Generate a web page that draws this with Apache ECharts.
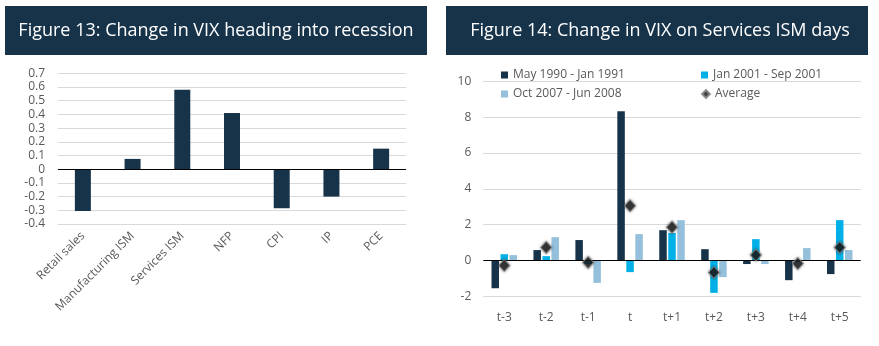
<!DOCTYPE html>
<html><head><meta charset="utf-8">
<script src="https://cdn.jsdelivr.net/npm/echarts@6/dist/echarts.min.js"></script>
<style>html,body{margin:0;padding:0;background:#fff}#c{width:879px;height:346px}</style>
</head><body><div id="c"></div>
<script>
// Figure 13 data
const cats13 = ['Retail sales','Manufacturing ISM','Services ISM','NFP','CPI','IP','PCE'];
const vals13 = [-0.305, 0.075, 0.58, 0.41, -0.285, -0.2, 0.15];
// Figure 14 data
const cats14 = ['t-3','t-2','t-1','t','t+1','t+2','t+3','t+4','t+5'];
const s1990 = [-1.55, 0.58, 1.14, 8.33, 1.69, 0.63, -0.2, -1.1, -0.76];
const s2001 = [0.35, 0.24, -0.2, -0.65, 1.53, -1.81, 1.19, -0.1, 2.25];
const s2007 = [0.30, 1.30, -1.25, 1.47, 2.25, -0.93, -0.2, 0.69, 0.58];
const avg = [-0.28, 0.73, -0.11, 3.05, 1.86, -0.67, 0.3, -0.17, 0.73];
const names = ['May 1990 - Jan 1991','Jan 2001 - Sep 2001','Oct 2007 - Jun 2008','Average'];

const FONT = 'Open Sans';
const GRAY = '#595959';
const NAVY = '#17334a';
const CYAN = '#00b0e6';
const LIGHT = '#95c0dc';
const GRID = '#d9d9d9';

const zeroLine = {silent:true, symbol:'none', label:{show:false}, lineStyle:{color:'#000', type:'solid', width:1}, data:[{yAxis:0}], animation:false};

const chart = echarts.init(document.getElementById('c'));
chart.setOption({
  animation:false,
  textStyle:{fontFamily:FONT},
  graphic:[
    {type:'rect', shape:{x:5,y:6,width:422,height:49}, style:{fill:NAVY}},
    {type:'text', x:216, y:31, style:{text:'Figure 13: Change in VIX heading into recession', fill:'#fff', font:'18px "Open Sans"', textAlign:'center', textVerticalAlign:'middle'}},
    {type:'rect', shape:{x:446,y:6,width:422,height:49}, style:{fill:NAVY}},
    {type:'text', x:660, y:31, style:{text:'Figure 14: Change in VIX on Services ISM days', fill:'#fff', font:'18px "Open Sans"', textAlign:'center', textVerticalAlign:'middle'}}
  ],
  legend:[
    {data:[names[0]], left:501, top:69, itemWidth:7, itemHeight:7, itemGap:5, textStyle:{color:GRAY, fontSize:12, fontFamily:FONT}, padding:0, icon:'rect'},
    {data:[names[1]], left:701, top:69, itemWidth:7, itemHeight:7, textStyle:{color:GRAY, fontSize:12, fontFamily:FONT}, padding:0, icon:'rect'},
    {data:[names[2]], left:501, top:88, itemWidth:7, itemHeight:7, textStyle:{color:GRAY, fontSize:12, fontFamily:FONT}, padding:0, icon:'rect'},
    {data:[names[3]], left:701, top:88, itemWidth:8, itemHeight:8, textStyle:{color:GRAY, fontSize:12, fontFamily:FONT}, padding:0, icon:'diamond'}
  ],
  grid:[
    {left:58, top:73.3, width:348, height:150.7},
    {left:483.3, top:81.3, width:377.4, height:215}
  ],
  xAxis:[
    {gridIndex:0, type:'category', data:cats13, axisLine:{show:false, onZero:false}, axisTick:{show:false},
     axisLabel:{rotate:45, color:GRAY, fontSize:12, margin:10, interval:0}},
    {gridIndex:1, type:'category', data:cats14, axisLine:{show:false, onZero:false}, axisTick:{show:false},
     axisLabel:{color:GRAY, fontSize:12, margin:15, interval:0}}
  ],
  yAxis:[
    {gridIndex:0, type:'value', min:-0.4, max:0.7, interval:0.1, axisLine:{show:false}, axisTick:{show:false},
     axisLabel:{color:GRAY, fontSize:12, margin:13, formatter:v=>String(+v.toFixed(1))}, splitLine:{lineStyle:{color:GRID}}},
    {gridIndex:1, type:'value', min:-2, max:10, interval:2, axisLine:{show:false}, axisTick:{show:false},
     axisLabel:{color:GRAY, fontSize:12, margin:12}, splitLine:{lineStyle:{color:GRID}}}
  ],
  series:[
    {type:'bar', xAxisIndex:0, yAxisIndex:0, data:vals13, barWidth:16, itemStyle:{color:NAVY}, markLine:zeroLine},
    {name:names[0], type:'bar', xAxisIndex:1, yAxisIndex:1, data:s1990, barWidth:7.5, barGap:'20%', itemStyle:{color:NAVY}, markLine:zeroLine},
    {name:names[1], type:'bar', xAxisIndex:1, yAxisIndex:1, data:s2001, barWidth:7.5, barGap:'20%', itemStyle:{color:CYAN}},
    {name:names[2], type:'bar', xAxisIndex:1, yAxisIndex:1, data:s2007, barWidth:7.5, barGap:'20%', itemStyle:{color:LIGHT}},
    {name:names[3], type:'scatter', xAxisIndex:1, yAxisIndex:1, data:avg, symbol:'diamond', symbolSize:[11,12], z:5,
     itemStyle:{color:'#1a1a1a', borderColor:'#8a8a8a', borderWidth:1, shadowBlur:3, shadowColor:'rgba(0,0,0,0.5)'}}
  ]
});
</script></body></html>
